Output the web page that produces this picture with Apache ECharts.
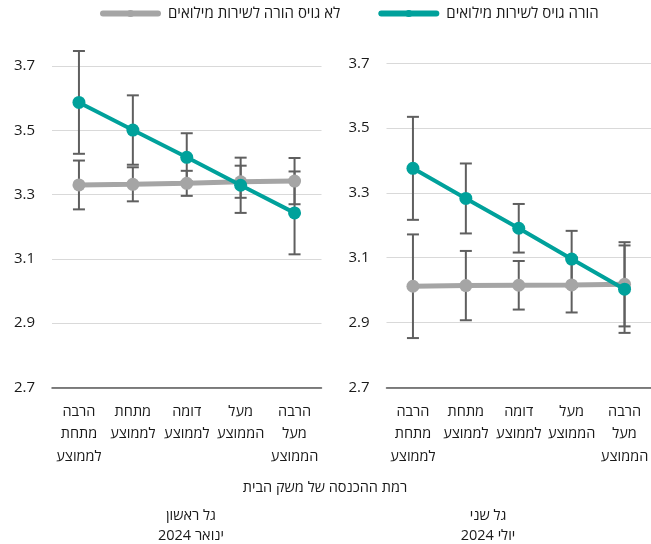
<!DOCTYPE html>
<html>
<head>
<meta charset="utf-8">
<script src="https://cdn.jsdelivr.net/npm/echarts@6/dist/echarts.min.js"></script>
<style>
html,body{margin:0;padding:0;background:#fff;}
#chart{width:651px;height:544px;}
</style>
</head>
<body>
<div id="chart" dir="rtl"></div>
<script>
// ---- data ----
const categories = ['הרבה מתחת לממוצע', 'מתחת לממוצע', 'דומה לממוצע', 'מעל הממוצע', 'הרבה מעל הממוצע'];
const seriesNames = ['הורה גויס לשירות מילואים', 'לא גויס הורה לשירות מילואים'];
const yTicks = [2.7, 2.9, 3.1, 3.3, 3.5, 3.7];
const panelTitles = ['גל ראשון\nינואר 2024', 'גל שני\nיולי 2024'];
const xAxisTitle = 'רמת ההכנסה של משק הבית';

// wave 1 (January 2024)
const w1Called = [3.587, 3.501, 3.416, 3.329, 3.243];
const w1CalledErr = [0.160, 0.108, 0.075, 0.086, 0.129];
const w1NotCalled = [3.330, 3.332, 3.335, 3.340, 3.342];
const w1NotCalledErr = [0.076, 0.053, 0.039, 0.050, 0.072];
// wave 2 (July 2024)
const w2Called = [3.376, 3.283, 3.191, 3.096, 3.003];
const w2CalledErr = [0.159, 0.108, 0.075, 0.087, 0.135];
const w2NotCalled = [3.012, 3.014, 3.015, 3.016, 3.018];
const w2NotCalledErr = [0.160, 0.107, 0.075, 0.085, 0.130];

const FONT = '"Open Sans", "Noto Sans", "DejaVu Sans", sans-serif';
const TEAL = '#00a19b';
const GREY = '#a5a5a5';
const ERR = '#5f5f5f';
const TXT = '#1a1a1a';

const chart = echarts.init(document.getElementById('chart'), null, {renderer: 'canvas'});

function errData(vals, errs) {
  return vals.map((v, i) => [i, v - errs[i], v + errs[i]]);
}
function errRender(params, api) {
  const x = api.value(0);
  const lo = api.coord([x, api.value(1)]);
  const hi = api.coord([x, api.value(2)]);
  const hw = 6;
  const style = {stroke: ERR, lineWidth: 2};
  return {
    type: 'group',
    children: [
      {type: 'line', shape: {x1: lo[0], y1: lo[1], x2: hi[0], y2: hi[1]}, style},
      {type: 'line', shape: {x1: lo[0] - hw, y1: lo[1], x2: lo[0] + hw, y2: lo[1]}, style},
      {type: 'line', shape: {x1: hi[0] - hw, y1: hi[1], x2: hi[0] + hw, y2: hi[1]}, style}
    ]
  };
}
function xAxisDef(gi) {
  return {
    type: 'category', gridIndex: gi, data: categories,
    axisLine: {show: true, lineStyle: {color: '#595959', width: 1.5}},
    axisTick: {show: false},
    axisLabel: {
      interval: 0, margin: 13, color: TXT, fontSize: 14.5, lineHeight: 22.5,
      fontFamily: FONT,
      formatter: v => v.split(' ').join('\n')
    }
  };
}
function yAxisDef(gi) {
  return {
    type: 'value', gridIndex: gi, min: 2.7, max: 3.8,
    axisLine: {show: false},
    axisTick: {show: false, customValues: yTicks},
    axisLabel: {
      customValues: yTicks, margin: 17, color: TXT, fontSize: 15, fontFamily: FONT,
      formatter: v => Number(v).toFixed(1)
    },
    splitLine: {show: true, lineStyle: {color: '#d9d9d9', width: 1.2}}
  };
}
function lineSeries(name, gi, data, color, width, z) {
  return {
    name, type: 'line', xAxisIndex: gi, yAxisIndex: gi, data,
    symbol: 'circle', symbolSize: 13, z,
    lineStyle: {color, width},
    itemStyle: {color},
    emphasis: {disabled: true}
  };
}
function errSeries(gi, vals, errs) {
  return {
    type: 'custom', xAxisIndex: gi, yAxisIndex: gi, z: 1,
    data: errData(vals, errs), renderItem: errRender, silent: true
  };
}

chart.setOption({
  animation: false,
  textStyle: {fontFamily: FONT},
  legend: {
    top: 1, left: 95, itemGap: 38, itemWidth: 55, itemHeight: 9, align: 'left',
    data: [seriesNames[1], seriesNames[0]],
    lineStyle: {width: 6, cap: 'round'},
    textStyle: {fontSize: 15, color: TXT, fontFamily: FONT, padding: [0, 0, 0, 5]}
  },
  title: [
    {text: xAxisTitle, left: 320, top: 475, textAlign: 'center',
     textStyle: {fontSize: 14.5, fontWeight: 'normal', color: TXT, fontFamily: FONT}},
    {text: panelTitles[0], left: 186, top: 501, textAlign: 'center',
     textStyle: {fontSize: 14.5, fontWeight: 'normal', color: TXT, lineHeight: 20, fontFamily: FONT}},
    {text: panelTitles[1], left: 483, top: 501, textAlign: 'center',
     textStyle: {fontSize: 14.5, fontWeight: 'normal', color: TXT, lineHeight: 20, fontFamily: FONT}}
  ],
  grid: [
    {left: 52, width: 269.5, top: 34, height: 353.3},
    {left: 386.5, width: 270, top: 31, height: 356.3}
  ],
  xAxis: [xAxisDef(0), xAxisDef(1)],
  yAxis: [yAxisDef(0), yAxisDef(1)],
  series: [
    errSeries(0, w1NotCalled, w1NotCalledErr),
    errSeries(0, w1Called, w1CalledErr),
    lineSeries(seriesNames[1], 0, w1NotCalled, GREY, 5, 3),
    lineSeries(seriesNames[0], 0, w1Called, TEAL, 4, 4),
    errSeries(1, w2NotCalled, w2NotCalledErr),
    errSeries(1, w2Called, w2CalledErr),
    lineSeries(seriesNames[1], 1, w2NotCalled, GREY, 5, 3),
    lineSeries(seriesNames[0], 1, w2Called, TEAL, 4, 4)
  ]
});
</script>
</body>
</html>
